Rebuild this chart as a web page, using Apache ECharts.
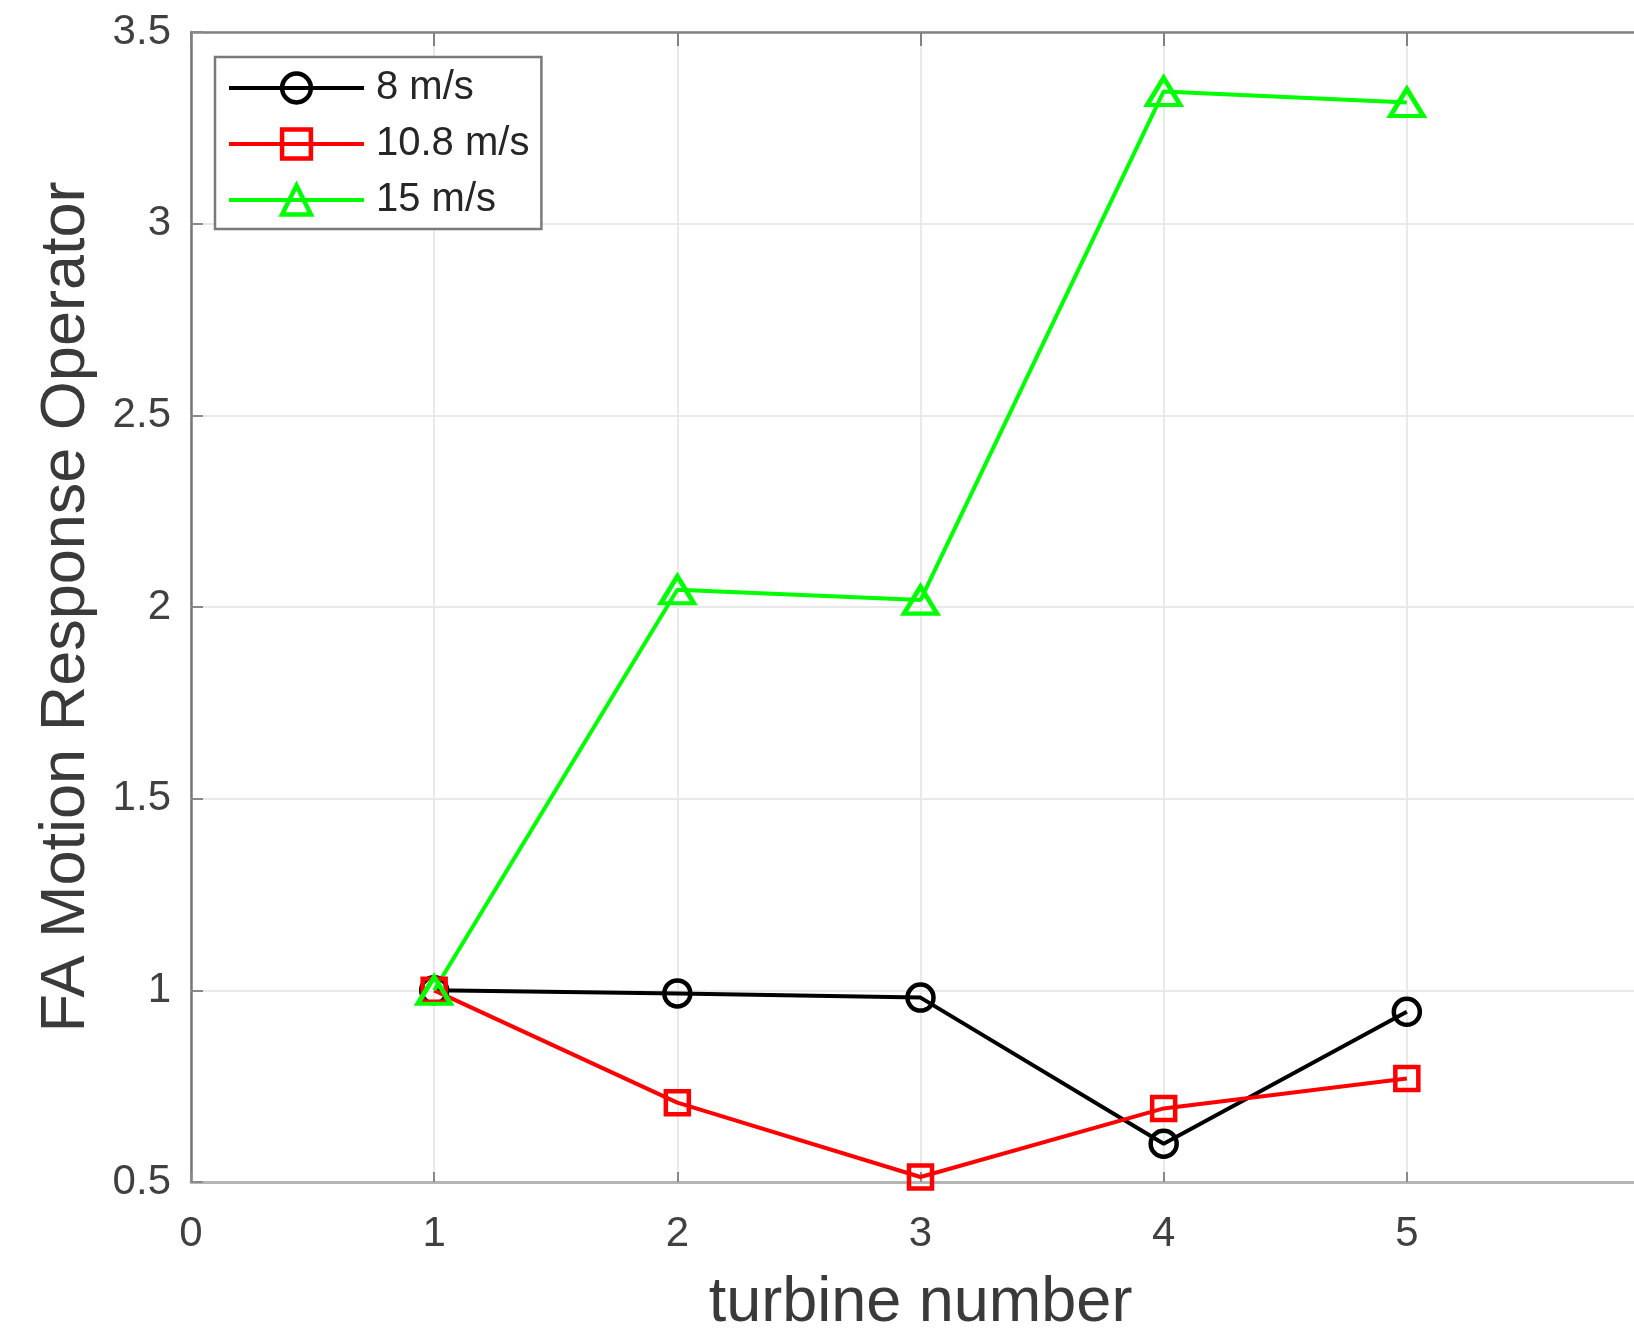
<!DOCTYPE html>
<html>
<head>
<meta charset="utf-8">
<script src="https://cdn.jsdelivr.net/npm/echarts@6/dist/echarts.min.js"></script>
<style>
html,body{margin:0;padding:0;background:#fff;}
#main{width:1634px;height:1329px;}
</style>
</head>
<body>
<div id="main"></div>
<script>
const turbines = [1, 2, 3, 4, 5];
const seriesNames = ['8 m/s', '10.8 m/s', '15 m/s'];
const v8 = [1.0, 0.992, 0.981, 0.600, 0.944];
const v108 = [1.0, 0.707, 0.513, 0.692, 0.770];
const v15 = [1.0, 2.045, 2.018, 3.345, 3.316];
const xTicks = [0, 1, 2, 3, 4, 5, 6];
const yTicks = [0.5, 1, 1.5, 2, 2.5, 3, 3.5];

const FONT = '"Liberation Sans", Arial, sans-serif';
const chart = echarts.init(document.getElementById('main'), null, {renderer: 'canvas'});

function pairs(vals) { return turbines.map((t, i) => [t, vals[i]]); }

function mk(name, vals, color, symbol, size) {
  return {
    name: name,
    type: 'line',
    data: pairs(vals),
    symbol: symbol,
    symbolSize: size,
    showAllSymbol: true,
    clip: false,
    lineStyle: {color: color, width: 4},
    itemStyle: {color: 'rgba(255,255,255,0)', borderColor: color, borderWidth: 4.5},
    emphasis: {disabled: true}
  };
}

chart.setOption({
  animation: false,
  backgroundColor: '#ffffff',
  grid: {left: 191, top: 32, width: 1459, height: 1150, containLabel: false, outerBoundsMode: 'none'},
  legend: {
    orient: 'vertical',
    left: 215,
    top: 57,
    padding: [11, 12, 9, 12],
    itemWidth: 135,
    itemHeight: 36,
    itemGap: 16,
    backgroundColor: '#ffffff',
    borderColor: '#7a7a7a',
    borderWidth: 2.5,
    lineStyle: {width: 4},
    itemStyle: {borderWidth: 4.5},
    textStyle: {fontFamily: FONT, fontSize: 40, color: '#262626', padding: [0, 0, 0, 7]},
    data: seriesNames
  },
  xAxis: [{
    type: 'value', min: xTicks[0], max: xTicks[xTicks.length - 1], interval: 1,
    name: 'turbine number', nameLocation: 'middle', nameGap: 90,
    nameTextStyle: {fontFamily: FONT, fontSize: 63, color: '#3a3a3a'},
    axisLine: {show: true, lineStyle: {color: '#b5b5b5', width: 3}},
    axisTick: {show: true, inside: true, length: 10, lineStyle: {color: '#8a8a8a', width: 2}},
    axisLabel: {fontFamily: FONT, fontSize: 42, color: '#404040', margin: 31},
    splitLine: {show: true, lineStyle: {color: '#e9e9e9', width: 2}}
  }, {
    type: 'value', position: 'top', min: xTicks[0], max: xTicks[xTicks.length - 1], interval: 1,
    axisLine: {show: true, lineStyle: {color: '#828282', width: 2.5}},
    axisTick: {show: true, inside: true, length: 14, lineStyle: {color: '#828282', width: 2}},
    axisLabel: {show: false},
    splitLine: {show: false}
  }],
  yAxis: {
    type: 'value', min: yTicks[0], max: yTicks[yTicks.length - 1], interval: 0.5,
    name: 'FA Motion Response Operator', nameLocation: 'middle', nameGap: 93,
    nameTextStyle: {fontFamily: FONT, fontSize: 63, color: '#3a3a3a'},
    axisLine: {show: true, lineStyle: {color: '#767676', width: 2.5}},
    axisTick: {show: true, inside: true, length: 12, lineStyle: {color: '#8a8a8a', width: 2}},
    axisLabel: {fontFamily: FONT, fontSize: 42, color: '#404040', margin: 20},
    splitLine: {show: true, lineStyle: {color: '#e9e9e9', width: 2}}
  },
  series: [
    mk(seriesNames[0], v8, '#000000', 'circle', 26),
    mk(seriesNames[1], v108, '#ff0000', 'rect', 23),
    mk(seriesNames[2], v15, '#00ff00', 'triangle', [33, 27])
  ]
});
</script>
</body>
</html>
